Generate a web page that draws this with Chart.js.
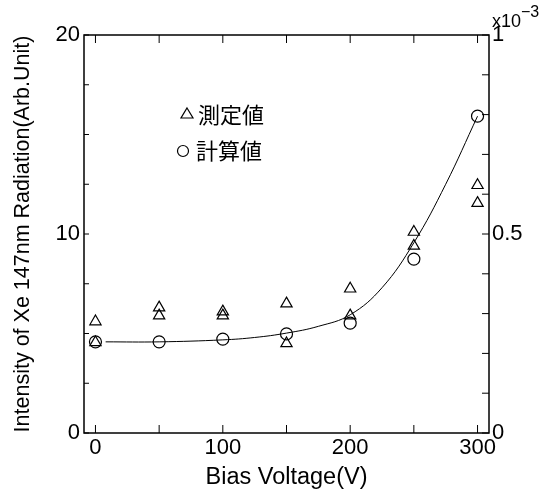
<!DOCTYPE html>
<html>
<head>
<meta charset="utf-8">
<script src="https://cdn.jsdelivr.net/npm/chart.js@4"></script>
<style>
  body { margin: 0; background: #fff; }
  #wrap { width: 548px; height: 492px; }
</style>
</head>
<body>
<div id="wrap"><canvas id="chart" width="548" height="492"></canvas></div>
<script>
// measured (triangles), left axis, Arb.Unit
const measuredX = [0, 0, 50, 50, 100, 100, 150, 150, 200, 200, 250, 250, 300, 300];
const measuredY = [5.6, 4.55, 6.3, 5.9, 6.1, 5.9, 6.5, 4.5, 7.25, 5.9, 10.1, 9.4, 12.45, 11.55];
// calculated (circles), right axis, x10^-3
const calcX = [0, 50, 100, 150, 200, 250, 300];
const calcY = [0.229, 0.229, 0.236, 0.249, 0.276, 0.437, 0.796];
// fitted curve through the calculated values
const fitX = [8, 50, 100, 125, 150, 175, 200, 225, 250, 275, 300];
const fitY = [0.229, 0.229, 0.234, 0.240, 0.251, 0.268, 0.297, 0.365, 0.478, 0.625, 0.796];

const xTicks = [0, 50, 100, 150, 200, 250, 300];
const yTicks = [0, 2.5, 5, 7.5, 10, 12.5, 15, 17.5, 20];
const y1Ticks = [0, 0.1, 0.2, 0.3, 0.4, 0.5, 0.6, 0.7, 0.8, 0.9, 1];

const FONT = "'Liberation Sans', 'DejaVu Sans', sans-serif";
const CJK = "'Noto Sans CJK JP', sans-serif";

const frame = {
  id: "frame",
  afterDraw(chart) {
    const ctx = chart.ctx;
    const a = chart.chartArea;
    const sx = chart.scales.x, sy = chart.scales.y, sy1 = chart.scales.y1;
    ctx.save();
    ctx.strokeStyle = "#000";
    ctx.lineWidth = 1.5;
    ctx.strokeRect(a.left, a.top, a.right - a.left, a.bottom - a.top);
    ctx.lineWidth = 1;
    ctx.beginPath();
    xTicks.forEach(v => {
      const px = sx.getPixelForValue(v);
      ctx.moveTo(px, a.bottom); ctx.lineTo(px, a.bottom - 8);
      ctx.moveTo(px, a.top); ctx.lineTo(px, a.top + 8);
    });
    yTicks.forEach(v => {
      const py = sy.getPixelForValue(v);
      ctx.moveTo(a.left, py); ctx.lineTo(a.left + 5, py);
    });
    y1Ticks.forEach(v => {
      const py = sy1.getPixelForValue(v);
      ctx.moveTo(a.right, py); ctx.lineTo(a.right - 7, py);
    });
    ctx.stroke();

    // legend inside the plot
    ctx.fillStyle = "#000";
    ctx.lineWidth = 1.2;
    ctx.beginPath();
    ctx.moveTo(187, 108); ctx.lineTo(193, 118); ctx.lineTo(181, 118); ctx.closePath();
    ctx.stroke();
    ctx.beginPath();
    ctx.arc(183, 151, 5.5, 0, Math.PI * 2);
    ctx.stroke();
    ctx.font = "22px " + CJK;
    ctx.textBaseline = "middle";
    ctx.fillText("測定値", 198, 115);
    ctx.fillText("計算値", 196, 151);

    // exponent on the right axis
    ctx.font = "18px " + FONT;
    ctx.textBaseline = "alphabetic";
    ctx.fillText("x10", 492, 27);
    ctx.font = "16px " + FONT;
    ctx.fillText("\u22123", 521, 17);
    ctx.restore();
  }
};

new Chart(document.getElementById("chart"), {
  type: "scatter",
  data: {
    datasets: [
      {
        label: "測定値",
        data: measuredX.map((x, i) => ({ x: x, y: measuredY[i] })),
        yAxisID: "y",
        pointStyle: "triangle",
        pointRadius: 6.5,
        borderColor: "#000",
        backgroundColor: "rgba(0,0,0,0)",
        borderWidth: 1.2,
      },
      {
        label: "計算値",
        data: calcX.map((x, i) => ({ x: x, y: calcY[i] })),
        yAxisID: "y1",
        pointStyle: "circle",
        pointRadius: 6,
        borderColor: "#000",
        backgroundColor: "rgba(0,0,0,0)",
        borderWidth: 1.2,
      },
      {
        label: "fit",
        type: "line",
        data: fitX.map((x, i) => ({ x: x, y: fitY[i] })),
        yAxisID: "y1",
        showLine: true,
        pointRadius: 0,
        borderColor: "#000",
        borderWidth: 1,
        tension: 0.4,
        fill: false,
      },
    ],
  },
  options: {
    responsive: false,
    animation: false,
    layout: { padding: { top: 35, right: 0, left: 0, bottom: 0 } },
    plugins: { legend: { display: false }, tooltip: { enabled: false } },
    scales: {
      x: {
        type: "linear",
        min: -9,
        max: 309,
        grid: { display: false, drawTicks: false },
        border: { display: false },
        afterBuildTicks: (s) => { s.ticks = xTicks.map(v => ({ value: v })); },
        afterFit: (s) => { s.height = 59; },
        ticks: {
          color: "#000",
          font: { family: FONT, size: 22 },
          padding: 2,
          maxRotation: 0,
          autoSkip: false,
          callback: (v) => (v % 100 === 0 ? String(v) : ""),
        },
        title: {
          display: true,
          text: "Bias Voltage(V)",
          color: "#000",
          font: { family: FONT, size: 23.5 },
          padding: { top: 0, bottom: 0 },
        },
      },
      y: {
        position: "left",
        min: 0,
        max: 20,
        grid: { display: false, drawTicks: false },
        border: { display: false },
        afterBuildTicks: (s) => { s.ticks = yTicks.map(v => ({ value: v })); },
        afterFit: (s) => { s.width = 84; },
        ticks: {
          color: "#000",
          font: { family: FONT, size: 22 },
          padding: 4,
          autoSkip: false,
          callback: (v) => (v % 10 === 0 ? String(v) : ""),
        },
        title: {
          display: true,
          text: "Intensity of Xe 147nm Radiation(Arb.Unit)",
          color: "#000",
          font: { family: FONT, size: 21.5 },
          padding: { top: 10, bottom: 0 },
        },
      },
      y1: {
        position: "right",
        min: 0,
        max: 1,
        grid: { display: false, drawTicks: false },
        border: { display: false },
        afterBuildTicks: (s) => { s.ticks = y1Ticks.map(v => ({ value: v })); },
        afterFit: (s) => { s.width = 59; },
        ticks: {
          color: "#000",
          font: { family: FONT, size: 22 },
          padding: 3,
          autoSkip: false,
          callback: (v) => (Math.abs(v) < 1e-9 ? "0" : Math.abs(v - 0.5) < 1e-9 ? "0.5" : Math.abs(v - 1) < 1e-9 ? "1" : ""),
        },
      },
    },
  },
  plugins: [frame],
});
</script>
</body>
</html>
